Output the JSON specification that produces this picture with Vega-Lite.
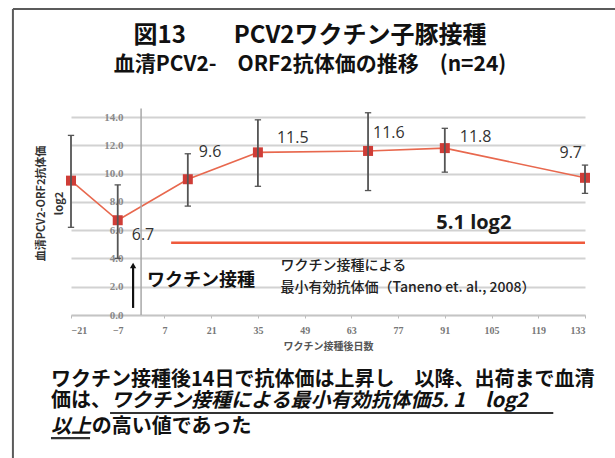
{
  "$schema": "https://vega.github.io/schema/vega-lite/v6.json",
  "width": 514,
  "height": 198,
  "autosize": "none",
  "padding": {"left": 71, "top": 117, "right": 30, "bottom": 143},
  "background": "white",
  "config": {
    "view": {"stroke": null},
    "font": "Noto Sans CJK JP",
    "axisY": {
      "grid": true,
      "gridColor": "#d2d2d2",
      "gridWidth": 1.8,
      "gridOpacity": 1,
      "tickColor": "transparent",
      "tickSize": 0,
      "domainColor": "transparent",
      "labelPadding": -52,
      "labelOverlap": false,
      "labelFont": "Liberation Serif",
      "labelFontSize": 11,
      "labelFontWeight": "bold",
      "labelColor": "#8a8a8a",
      "titleFont": "Noto Sans CJK JP",
      "titleFontSize": 11,
      "titleFontWeight": "bold",
      "titleColor": "#333333",
      "titleAngle": 270,
      "titleX": -36,
      "titleY": 86,
      "titleAlign": "center",
      "titleBaseline": "top",
      "titleLineHeight": 18
    },
    "axisX": {
      "grid": false,
      "titleFont": "Noto Sans CJK JP",
      "titleFontSize": 10,
      "titleFontWeight": "bold",
      "titleColor": "#555555",
      "titlePadding": 6,
      "labelFont": "Liberation Serif",
      "labelFontSize": 10,
      "labelFontWeight": "bold",
      "labelColor": "#777777",
      "labelPadding": 7,
      "labelOverlap": false,
      "tickSize": 3,
      "tickColor": "#bbbbbb",
      "domainColor": "#c4c4c4",
      "domainWidth": 1.5
    }
  },
  "title": {
    "text": "図13　　PCV2ワクチン子豚接種",
    "subtitle": "血清PCV2-　ORF2抗体価の推移　(n=24)",
    "anchor": "middle",
    "frame": "group",
    "dx": -18,
    "offset": -67,
    "font": "Noto Sans CJK JP",
    "fontSize": 24,
    "fontWeight": "bold",
    "color": "#111111",
    "subtitleFont": "Noto Sans CJK JP",
    "subtitleFontSize": 21,
    "subtitleFontWeight": "bold",
    "subtitleColor": "#111111",
    "subtitlePadding": 6
  },
  "datasets": {
    "titer": [
      {"day": -21, "mean": 9.5, "lo": 6.2, "hi": 12.7},
      {"day": -7, "mean": 6.7, "lo": 4.0, "hi": 9.2},
      {"day": 14, "mean": 9.6, "lo": 7.7, "hi": 11.4},
      {"day": 35, "mean": 11.5, "lo": 9.1, "hi": 13.8},
      {"day": 68, "mean": 11.6, "lo": 8.8, "hi": 14.3},
      {"day": 91, "mean": 11.8, "lo": 10.1, "hi": 13.2},
      {"day": 133, "mean": 9.7, "lo": 8.6, "hi": 10.6}
    ]
  },
  "layer": [
    {
      "data": {"name": "titer"},
      "mark": {"type": "line", "color": "#e8684e", "strokeWidth": 1.6},
      "encoding": {
        "x": {
          "field": "day",
          "type": "quantitative",
          "scale": {"domain": [-21, 133], "nice": false, "zero": false},
          "axis": {
            "values": [-21, -7, 7, 21, 35, 49, 63, 77, 91, 105, 119, 133],
            "title": "ワクチン接種後日数"
          }
        },
        "y": {
          "field": "mean",
          "type": "quantitative",
          "scale": {"domain": [0, 14], "nice": false, "zero": false},
          "axis": {
            "values": [0, 2, 4, 6, 8, 10, 12, 14],
            "tickCount": 8,
            "format": ".1f",
            "title": ["血清PCV2-ORF2抗体価", "log2"]
          }
        }
      }
    },
    {
      "data": {"name": "titer"},
      "mark": {"type": "point", "shape": "square", "filled": true, "size": 100, "color": "#cf3d37", "opacity": 1},
      "encoding": {
        "x": {"field": "day", "type": "quantitative"},
        "y": {"field": "mean", "type": "quantitative"}
      }
    },
    {
      "data": {"name": "titer"},
      "mark": {"type": "rule", "color": "#555555", "strokeWidth": 1.8},
      "encoding": {
        "x": {"field": "day", "type": "quantitative"},
        "y": {"field": "lo", "type": "quantitative"},
        "y2": {"field": "hi"}
      }
    },
    {
      "data": {"name": "titer"},
      "mark": {"type": "point", "shape": "stroke", "filled": false, "size": 40, "strokeWidth": 1.3, "color": "#555555", "opacity": 1},
      "encoding": {
        "x": {"field": "day", "type": "quantitative"},
        "y": {"field": "lo", "type": "quantitative"}
      }
    },
    {
      "data": {"name": "titer"},
      "mark": {"type": "point", "shape": "stroke", "filled": false, "size": 40, "strokeWidth": 1.3, "color": "#555555", "opacity": 1},
      "encoding": {
        "x": {"field": "day", "type": "quantitative"},
        "y": {"field": "hi", "type": "quantitative"}
      }
    },
    {
      "data": {"name": "titer"},
      "transform": [{"filter": "datum.day == 14"}],
      "mark": {"type": "text", "align": "left", "baseline": "middle", "dx": 11, "dy": -27, "font": "Open Sans", "fontSize": 16, "color": "#333333"},
      "encoding": {
        "x": {"field": "day", "type": "quantitative"},
        "y": {"field": "mean", "type": "quantitative"},
        "text": {"field": "mean", "format": ".1f"}
      }
    },
    {
      "data": {"name": "titer"},
      "transform": [{"filter": "datum.day == 35"}],
      "mark": {"type": "text", "align": "left", "baseline": "middle", "dx": 19, "dy": -14, "font": "Open Sans", "fontSize": 16, "color": "#333333"},
      "encoding": {
        "x": {"field": "day", "type": "quantitative"},
        "y": {"field": "mean", "type": "quantitative"},
        "text": {"field": "mean", "format": ".1f"}
      }
    },
    {
      "data": {"name": "titer"},
      "transform": [{"filter": "datum.day == 68"}],
      "mark": {"type": "text", "align": "left", "baseline": "middle", "dx": 5, "dy": -18, "font": "Open Sans", "fontSize": 16, "color": "#333333"},
      "encoding": {
        "x": {"field": "day", "type": "quantitative"},
        "y": {"field": "mean", "type": "quantitative"},
        "text": {"field": "mean", "format": ".1f"}
      }
    },
    {
      "data": {"name": "titer"},
      "transform": [{"filter": "datum.day == 91"}],
      "mark": {"type": "text", "align": "left", "baseline": "middle", "dx": 15, "dy": -11, "font": "Open Sans", "fontSize": 16, "color": "#333333"},
      "encoding": {
        "x": {"field": "day", "type": "quantitative"},
        "y": {"field": "mean", "type": "quantitative"},
        "text": {"field": "mean", "format": ".1f"}
      }
    },
    {
      "data": {"name": "titer"},
      "transform": [{"filter": "datum.day == 133"}],
      "mark": {"type": "text", "align": "right", "baseline": "middle", "dx": -3, "dy": -25, "font": "Open Sans", "fontSize": 16, "color": "#333333"},
      "encoding": {
        "x": {"field": "day", "type": "quantitative"},
        "y": {"field": "mean", "type": "quantitative"},
        "text": {"field": "mean", "format": ".1f"}
      }
    },
    {
      "data": {"name": "titer"},
      "transform": [{"filter": "datum.day == -7"}],
      "mark": {"type": "text", "align": "left", "baseline": "middle", "dx": 14, "dy": 15, "font": "Open Sans", "fontSize": 16, "color": "#333333"},
      "encoding": {
        "x": {"field": "day", "type": "quantitative"},
        "y": {"field": "mean", "type": "quantitative"},
        "text": {"field": "mean", "format": ".1f"}
      }
    },
    {
      "data": {"values": [{}]},
      "mark": {"type": "rule", "color": "#a8a8a8", "strokeWidth": 1.5},
      "encoding": {"x": {"datum": 0}, "y": {"datum": 0}, "y2": {"datum": 14.6}}
    },
    {
      "data": {"values": [{}]},
      "mark": {"type": "rule", "color": "#ef5a3c", "strokeWidth": 2.5},
      "encoding": {"x": {"datum": 9}, "x2": {"datum": 133}, "y": {"datum": 5.1}}
    },
    {
      "data": {"values": [{}]},
      "mark": {"type": "text", "text": "5.1 log2", "align": "center", "baseline": "alphabetic", "font": "Open Sans", "fontSize": 20, "fontWeight": "bold", "color": "#1a1a1a"},
      "encoding": {"x": {"datum": 99.7}, "y": {"datum": 6.08}}
    },
    {
      "data": {"values": [{}]},
      "mark": {"type": "rule", "color": "#111111", "strokeWidth": 2.2},
      "encoding": {"x": {"datum": -2.4}, "y": {"datum": 0.5}, "y2": {"datum": 3.4}}
    },
    {
      "data": {"values": [{}]},
      "mark": {"type": "point", "shape": "triangle-up", "filled": true, "size": 40, "color": "#111111", "opacity": 1},
      "encoding": {"x": {"datum": -2.4}, "y": {"datum": 3.5}}
    },
    {
      "data": {"values": [{}]},
      "mark": {"type": "text", "text": "ワクチン接種", "align": "left", "baseline": "middle", "font": "Noto Sans CJK JP", "fontSize": 18, "fontWeight": "bold", "color": "#111111"},
      "encoding": {"x": {"datum": 1.8}, "y": {"datum": 2.4}}
    },
    {
      "data": {"values": [{}]},
      "mark": {"type": "text", "text": ["ワクチン接種による", "最小有効抗体価（Taneno et. al., 2008）"], "align": "left", "baseline": "alphabetic", "lineHeight": 22, "font": "Noto Sans CJK JP", "fontSize": 14, "fontWeight": 500, "color": "#222222"},
      "encoding": {"x": {"datum": 41.8}, "y": {"datum": 3.18}}
    },
    {
      "data": {"values": [{}]},
      "mark": {"type": "text", "text": "ワクチン接種後14日で抗体価は上昇し　以降、出荷まで血清", "align": "left", "baseline": "middle", "font": "Noto Sans CJK JP", "fontSize": 20, "fontWeight": "bold", "color": "#111111"},
      "encoding": {"x": {"datum": -27}, "y": {"datum": -4.6}}
    },
    {
      "data": {"values": [{}]},
      "mark": {"type": "text", "text": "価は、", "align": "left", "baseline": "middle", "font": "Noto Sans CJK JP", "fontSize": 20, "fontWeight": "bold", "color": "#111111"},
      "encoding": {"x": {"datum": -27}, "y": {"datum": -6.08}}
    },
    {
      "data": {"values": [{}]},
      "mark": {"type": "text", "text": "ワクチン接種による最小有効抗体価5. 1　log2", "align": "left", "baseline": "middle", "font": "Noto Sans CJK JP", "fontSize": 20, "fontWeight": "bold", "fontStyle": "italic", "color": "#111111"},
      "encoding": {"x": {"datum": -9.0}, "y": {"datum": -6.08}}
    },
    {
      "data": {"values": [{}]},
      "mark": {"type": "text", "text": "以上", "align": "left", "baseline": "middle", "font": "Noto Sans CJK JP", "fontSize": 20, "fontWeight": "bold", "fontStyle": "italic", "color": "#111111"},
      "encoding": {"x": {"datum": -27}, "y": {"datum": -7.92}}
    },
    {
      "data": {"values": [{}]},
      "mark": {"type": "text", "text": "の高い値であった", "align": "left", "baseline": "middle", "font": "Noto Sans CJK JP", "fontSize": 20, "fontWeight": "bold", "color": "#111111"},
      "encoding": {"x": {"datum": -14.8}, "y": {"datum": -7.92}}
    },
    {
      "data": {"values": [{}]},
      "mark": {"type": "rule", "color": "#333333", "strokeWidth": 2.2},
      "encoding": {"x": {"datum": -9.3}, "x2": {"datum": 123.5}, "y": {"datum": -6.93}}
    },
    {
      "data": {"values": [{}]},
      "mark": {"type": "rule", "color": "#333333", "strokeWidth": 2.2},
      "encoding": {"x": {"datum": -27}, "x2": {"datum": -15.3}, "y": {"datum": -8.7}}
    },
    {
      "data": {"values": [{}]},
      "mark": {"type": "rule", "color": "#5b5b5b", "strokeWidth": 2},
      "encoding": {"x": {"datum": -38.4}, "x2": {"datum": 145}, "y": {"datum": 21.64}}
    },
    {
      "data": {"values": [{}]},
      "mark": {"type": "rule", "color": "#5b5b5b", "strokeWidth": 2},
      "encoding": {"x": {"datum": -38.4}, "y": {"datum": 21.64}, "y2": {"datum": -10.5}}
    }
  ]
}
